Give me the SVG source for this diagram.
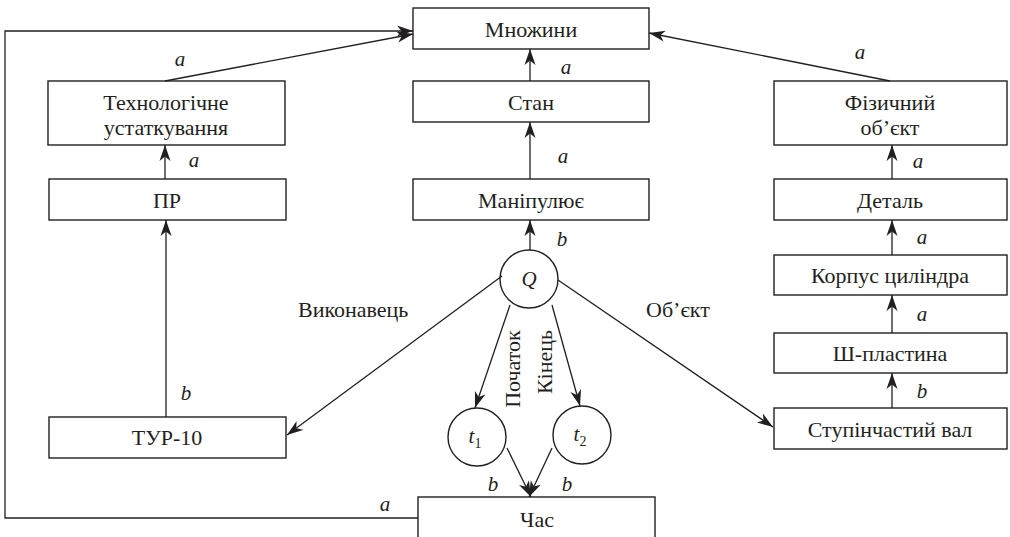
<svg xmlns="http://www.w3.org/2000/svg" width="1010" height="537" viewBox="0 0 1010 537">
<style>
.box{fill:none;stroke:#231f20;stroke-width:1.4}
.ln{fill:none;stroke:#231f20;stroke-width:1.3}
.t{font-family:"Liberation Serif","Times New Roman",serif;font-size:22px;fill:#231f20;text-anchor:middle}
.lb{font-family:"Liberation Serif","Times New Roman",serif;font-size:21px;font-style:italic;fill:#231f20;text-anchor:middle}
</style>
<defs>
<marker id="ah" markerUnits="userSpaceOnUse" markerWidth="17" markerHeight="12" refX="16" refY="6" orient="auto">
<path d="M0,0.5 L16,6 L0,11.5 L4.5,6 Z" fill="#231f20"/>
</marker>
</defs>
<rect width="1010" height="537" fill="#ffffff"/>
<g id="connectors">
<polyline class="ln" points="418,518 5,518 5,31 413,31" marker-end="url(#ah)"/>
<line class="ln" x1="165" y1="81" x2="413" y2="34" marker-end="url(#ah)"/>
<line class="ln" x1="890" y1="81" x2="649" y2="33" marker-end="url(#ah)"/>
<line class="ln" x1="530" y1="81" x2="530" y2="49" marker-end="url(#ah)"/>
<line class="ln" x1="530" y1="179" x2="530" y2="122" marker-end="url(#ah)"/>
<line class="ln" x1="165" y1="179" x2="165" y2="145" marker-end="url(#ah)"/>
<line class="ln" x1="166" y1="417" x2="166" y2="220" marker-end="url(#ah)"/>
<line class="ln" x1="892" y1="179" x2="892" y2="145" marker-end="url(#ah)"/>
<line class="ln" x1="892" y1="255" x2="892" y2="220" marker-end="url(#ah)"/>
<line class="ln" x1="892" y1="333" x2="892" y2="295" marker-end="url(#ah)"/>
<line class="ln" x1="892" y1="408" x2="892" y2="373" marker-end="url(#ah)"/>
<line class="ln" x1="530" y1="250" x2="530" y2="220" marker-end="url(#ah)"/>
<line class="ln" x1="502" y1="276" x2="287" y2="435" marker-end="url(#ah)"/>
<line class="ln" x1="558" y1="280" x2="773" y2="427" marker-end="url(#ah)"/>
<line class="ln" x1="510" y1="305" x2="475" y2="408" marker-end="url(#ah)"/>
<line class="ln" x1="552" y1="305" x2="580" y2="406" marker-end="url(#ah)"/>
<line class="ln" x1="507" y1="448" x2="531" y2="497" marker-end="url(#ah)"/>
<line class="ln" x1="552" y1="448" x2="529" y2="497" marker-end="url(#ah)"/>
<text class="lb" x="180" y="66">a</text>
<text class="lb" x="194" y="167">a</text>
<text class="lb" x="186" y="400">b</text>
<text class="lb" x="566" y="74">a</text>
<text class="lb" x="563" y="163">a</text>
<text class="lb" x="562" y="246">b</text>
<text class="lb" x="860" y="59">a</text>
<text class="lb" x="918" y="168">a</text>
<text class="lb" x="922" y="244">a</text>
<text class="lb" x="922" y="321">a</text>
<text class="lb" x="922" y="398">b</text>
<text class="lb" x="493" y="491">b</text>
<text class="lb" x="567" y="491">b</text>
<text class="lb" x="385" y="511">a</text>
<text class="t" x="298" y="317" style="text-anchor:start">Виконавець</text>
<text class="t" x="646" y="317" style="text-anchor:start">Об’єкт</text>
<text class="t" transform="translate(520,369) rotate(-90)">Початок</text>
<text class="t" transform="translate(552,362) rotate(-90)">Кінець</text>
</g>
<g id="n-mnozhyny"><rect class="box" x="413" y="8" width="236" height="41"/><text class="t" x="531" y="37">Множини</text></g>
<g id="n-tekh"><rect class="box" x="48" y="81" width="237" height="64"/><text class="t" x="166" y="110">Технологічне</text><text class="t" x="166" y="135">устаткування</text></g>
<g id="n-stan"><rect class="box" x="413" y="81" width="236" height="41"/><text class="t" x="531" y="110">Стан</text></g>
<g id="n-fiz"><rect class="box" x="774" y="81" width="233" height="64"/><text class="t" x="890" y="110">Фізичний</text><text class="t" x="890" y="135">об’єкт</text></g>
<g id="n-pr"><rect class="box" x="49" y="179" width="237" height="41"/><text class="t" x="167" y="208">ПР</text></g>
<g id="n-manip"><rect class="box" x="413" y="179" width="236" height="41"/><text class="t" x="531" y="208">Маніпулює</text></g>
<g id="n-detal"><rect class="box" x="774" y="179" width="233" height="41"/><text class="t" x="890" y="208">Деталь</text></g>
<g id="n-korpus"><rect class="box" x="774" y="255" width="233" height="40"/><text class="t" x="890" y="283">Корпус циліндра</text></g>
<g id="n-q"><circle class="box" cx="529" cy="279" r="29"/><text class="lb" x="529" y="286">Q</text></g>
<g id="n-sh"><rect class="box" x="774" y="333" width="233" height="40"/><text class="t" x="890" y="361">Ш-пластина</text></g>
<g id="n-tur"><rect class="box" x="49" y="417" width="237" height="41"/><text class="t" x="167" y="445">ТУР-10</text></g>
<g id="n-t1"><circle class="box" cx="477" cy="437" r="29"/><text class="lb" x="475" y="443">t<tspan style="font-style:normal;font-size:14px" dy="5">1</tspan></text></g>
<g id="n-t2"><circle class="box" cx="582" cy="435" r="29"/><text class="lb" x="580" y="441">t<tspan style="font-style:normal;font-size:14px" dy="5">2</tspan></text></g>
<g id="n-stup"><rect class="box" x="774" y="408" width="233" height="41"/><text class="t" x="890" y="437">Ступінчастий вал</text></g>
<g id="n-chas"><rect class="box" x="418" y="497" width="237" height="42"/><text class="t" x="537" y="527">Час</text></g>
</svg>
